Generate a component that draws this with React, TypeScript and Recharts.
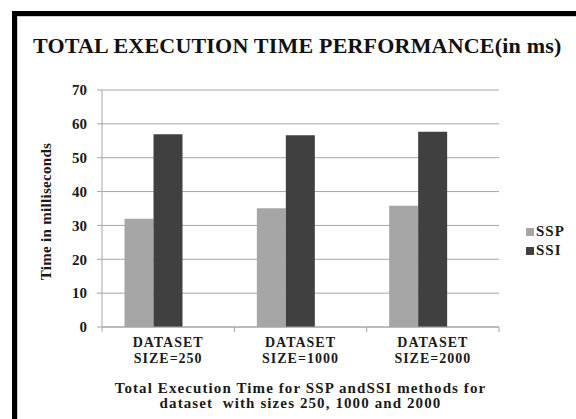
import { BarChart, Bar, XAxis, YAxis, CartesianGrid, Legend, Label } from 'recharts'

// values
const categories = ['SIZE=250', 'SIZE=1000', 'SIZE=2000']
const sspValues = [32.0, 35.1, 35.8]
const ssiValues = [56.9, 56.6, 57.7]
const spareValues = [null, null, null] // empty third series, it still takes a slot in each group
const yTicks = [0, 10, 20, 30, 40, 50, 60, 70]
const legendOrder = ['SSP', 'SSI']

const data = categories.map((c, i) => ({
  name: c,
  SSP: sspValues[i],
  SSI: ssiValues[i],
  spare: spareValues[i],
}))

const SERIF = '"Liberation Serif", "Times New Roman", serif'
const INK = '#1a1a1a'
const GRID = '#a6a6a6'

const CategoryTick = (props: any) => {
  const { x, y, payload, index, visibleTicksCount } = props
  const half = payload?.offset ?? 0
  const axisY = y - 5
  return (
    <g>
      <line x1={x - half} x2={x - half} y1={axisY} y2={axisY + 5} stroke={GRID} />
      {index === visibleTicksCount - 1 && (
        <line x1={x + half} x2={x + half} y1={axisY} y2={axisY + 5} stroke={GRID} />
      )}
      <text x={x} y={y} textAnchor="middle" fontFamily={SERIF} fontWeight="bold" fontSize={14}
        letterSpacing={1} fill={INK}>
        <tspan x={x} dy={15}>DATASET</tspan>
        <tspan x={x} dy={16}>{payload.value}</tspan>
      </text>
    </g>
  )
}

const LegendBox = ({ payload }: any) => {
  const items = (payload || [])
    .filter((p: any) => legendOrder.includes(p.value))
    .sort((a: any, b: any) => legendOrder.indexOf(a.value) - legendOrder.indexOf(b.value))
  return (
    <div style={{ fontFamily: SERIF, fontWeight: 'bold', fontSize: 15, color: INK, lineHeight: '19px' }}>
      {items.map((p: any) => (
        <div key={p.value} style={{ display: 'flex', alignItems: 'center', letterSpacing: 1 }}>
          <span style={{ width: 8, height: 8, background: p.color, marginRight: 2, display: 'inline-block' }} />
          {p.value}
        </div>
      ))}
    </div>
  )
}

export default function App() {
  return (
    <div style={{ position: 'absolute', left: 0, top: 0, width: 576, height: 419, overflow: 'hidden', background: '#fff' }}>
      <div
        style={{
          position: 'absolute', left: 12, top: 11, width: 640, height: 480,
          border: '5px solid #000', boxShadow: 'inset 1px 1px 0 #cfcfcf',
        }}
      />
      <div
        style={{
          position: 'absolute', left: 33, top: 35, fontFamily: SERIF, fontWeight: 'bold',
          fontSize: 22, lineHeight: '21px', letterSpacing: 0.2, color: '#111', whiteSpace: 'nowrap',
        }}
      >
        TOTAL EXECUTION TIME PERFORMANCE(in ms)
      </div>
      <div style={{ position: 'absolute', left: 0, top: 0 }}>
        <BarChart
          width={576}
          height={419}
          data={data}
          margin={{ top: 90, right: 77, bottom: 0, left: 0 }}
          barCategoryGap="17%"
          barGap={0}
        >
          <CartesianGrid vertical={false} stroke={GRID} />
          <XAxis
            dataKey="name"
            height={92}
            interval={0}
            tickLine={false}
            tickSize={5}
            tickMargin={0}
            axisLine={{ stroke: GRID }}
            tick={<CategoryTick />}
          >
            <Label
              content={({ viewBox }: any) => {
                const cx = viewBox.x + viewBox.width / 2
                return (
                  <text textAnchor="middle" fontFamily={SERIF} fontWeight="bold" fontSize={15}
                    letterSpacing={1.1} fill={INK} style={{ whiteSpace: 'pre' }}>
                    <tspan x={cx} y={viewBox.y + 66}>Total Execution Time for SSP andSSI methods for</tspan>
                    <tspan x={cx} y={viewBox.y + 81}>dataset  with sizes 250, 1000 and 2000</tspan>
                  </text>
                )
              }}
            />
          </XAxis>
          <YAxis
            width={102}
            domain={[0, 70]}
            ticks={yTicks}
            interval={0}
            tickSize={5}
            tickMargin={10}
            axisLine={{ stroke: GRID }}
            tickLine={{ stroke: GRID }}
            tick={{ fontFamily: SERIF, fontWeight: 'bold', fontSize: 15, fill: INK }}
          >
            <Label
              content={({ viewBox }: any) => {
                const lx = viewBox.x + 51
                const ly = viewBox.y + viewBox.height / 2 + 3
                return (
                  <text
                    x={lx}
                    y={ly}
                    transform={`rotate(-90, ${lx}, ${ly})`}
                    textAnchor="middle"
                    fontFamily={SERIF}
                    fontWeight="bold"
                    fontSize={15}
                    letterSpacing={0.3}
                    fill={INK}
                  >
                    Time in milliseconds
                  </text>
                )
              }}
            />
          </YAxis>
          <Legend
            layout="vertical"
            align="center"
            verticalAlign="middle"
            wrapperStyle={{ left: 526, top: 222, width: 60 }}
            content={<LegendBox />}
          />
          <Bar dataKey="SSP" name="SSP" fill="#a6a6a6" isAnimationActive={false} />
          <Bar dataKey="SSI" name="SSI" fill="#404040" isAnimationActive={false} />
          <Bar dataKey="spare" legendType="none" fill="#ffffff" isAnimationActive={false} />
        </BarChart>
      </div>
    </div>
  )
}
